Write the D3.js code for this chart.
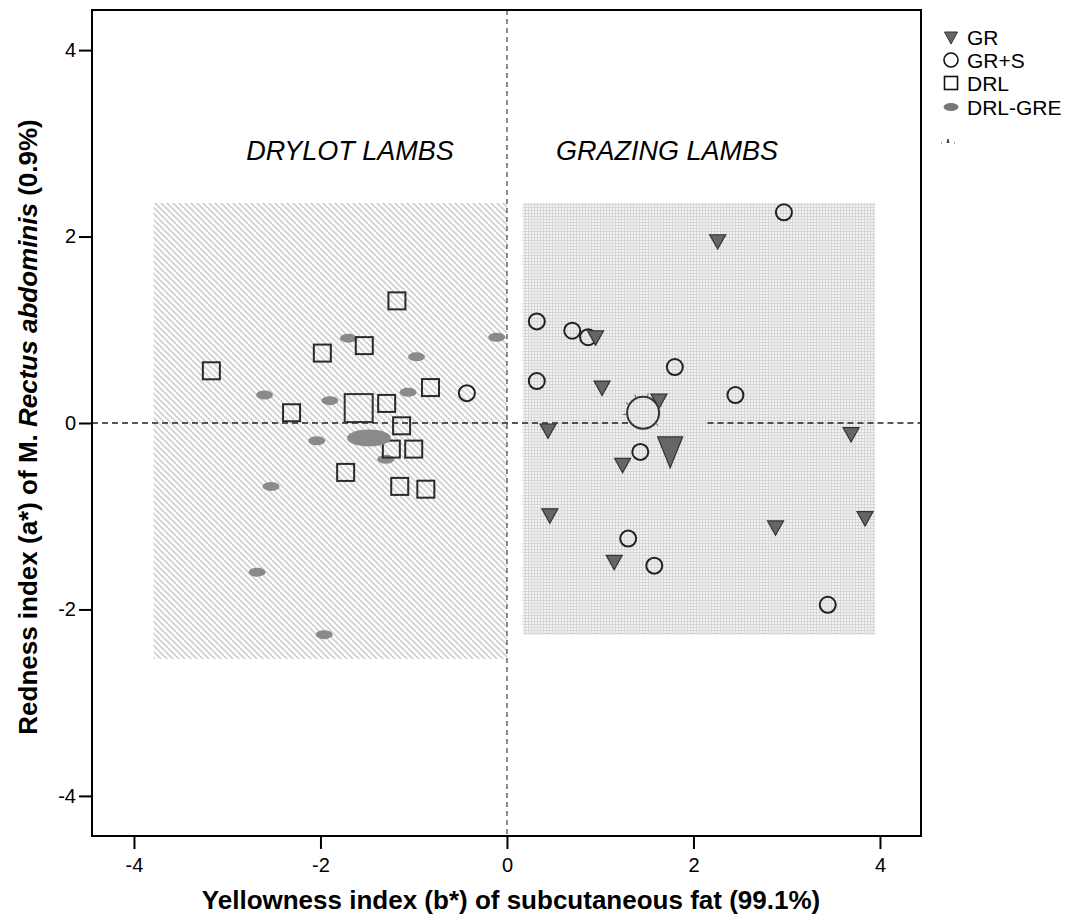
<!DOCTYPE html>
<html>
<head>
<meta charset="utf-8">
<script src="https://cdn.jsdelivr.net/npm/d3@7"></script>
<style>
  body { margin: 0; background: #fff; }
  svg text { font-family: "Liberation Sans", Arial, sans-serif; }
</style>
</head>
<body>
<svg id="chart" width="1078" height="921"></svg>
<script>
// data: [b*, a*]
var grPoints = [[2.26,1.95],[0.95,0.92],[1.02,0.38],[1.63,0.24],[0.44,-0.08],[1.24,-0.45],
  [3.69,-0.12],[0.46,-0.99],[1.15,-1.49],[2.88,-1.12],[3.84,-1.02]];
var grsPoints = [[2.97,2.26],[0.32,1.09],[0.70,0.99],[0.87,0.92],[0.32,0.45],[-0.43,0.32],
  [1.80,0.60],[2.45,0.30],[1.43,-0.31],[1.30,-1.24],[1.58,-1.53],[3.44,-1.95]];
var drlPoints = [[-3.17,0.56],[-1.18,1.31],[-1.98,0.75],[-1.53,0.83],[-0.82,0.38],[-2.31,0.11],
  [-1.29,0.21],[-1.13,-0.03],[-1.24,-0.28],[-1.00,-0.28],[-1.73,-0.53],[-1.15,-0.68],[-0.87,-0.71]];
var drlgrePoints = [[-1.70,0.91],[-0.11,0.92],[-0.97,0.71],[-2.60,0.30],[-1.90,0.24],[-1.06,0.33],
  [-2.04,-0.19],[-1.30,-0.39],[-2.53,-0.68],[-2.68,-1.60],[-1.96,-2.27]];

// group centroids (big symbols)
var centroids = [
  {group: 'GR', x: 1.75, y: -0.31},
  {group: 'GR+S', x: 1.46, y: 0.11},
  {group: 'DRL', x: -1.59, y: 0.16},
  {group: 'DRL-GRE', x: -1.48, y: -0.16}
];

var legendLabels = ['GR', 'GR+S', 'DRL', 'DRL-GRE'];
var xTicks = [-4, -2, 0, 2, 4];
var yTicks = [-4, -2, 0, 2, 4];

// shaded zones [x0, x1, y0, y1]
var drylotZone = [-3.79, 0, -2.53, 2.36];
var grazingZone = [0.17, 3.95, -2.27, 2.36];
var zeroLineSegments = [[-4.45, 1.32], [2.15, 4.45]];

var svg = d3.select('#chart');
var plotLeft = 92, plotRight = 921, plotTop = 10, plotBottom = 836;

var x = d3.scaleLinear().domain([-4.45, 4.44]).range([plotLeft, plotRight]);
var y = d3.scaleLinear().domain([-4.43, 4.43]).range([plotBottom, plotTop]);

var defs = svg.append('defs');
var hatch = defs.append('pattern').attr('id', 'hatch')
  .attr('patternUnits', 'userSpaceOnUse').attr('width', 6).attr('height', 6);
hatch.append('rect').attr('width', 6).attr('height', 6).attr('fill', '#fff');
hatch.append('path').attr('d', 'M0,0L6,6M-3,3L3,9M3,-3L9,3')
  .attr('stroke', '#cfcfcf').attr('stroke-width', 1.6);

var grid = defs.append('pattern').attr('id', 'grid')
  .attr('patternUnits', 'userSpaceOnUse').attr('width', 3).attr('height', 3);
grid.append('rect').attr('width', 3).attr('height', 3).attr('fill', '#f3f3f3');
grid.append('path').attr('d', 'M0,0.5H3M0.5,0V3')
  .attr('stroke', '#d6d6d6').attr('stroke-width', 1);

function zone(z, fill){
  svg.append('rect')
    .attr('x', x(z[0])).attr('y', y(z[3]))
    .attr('width', x(z[1]) - x(z[0]))
    .attr('height', y(z[2]) - y(z[3]))
    .attr('fill', fill);
}
zone(drylotZone, 'url(#hatch)');
zone(grazingZone, 'url(#grid)');

// reference lines
svg.append('line')
  .attr('x1', x(0)).attr('x2', x(0)).attr('y1', plotTop).attr('y2', plotBottom)
  .attr('stroke', '#666').attr('stroke-width', 1.5).attr('stroke-dasharray', '5,4');
svg.selectAll('line.zero').data(zeroLineSegments).enter().append('line')
  .attr('class', 'zero')
  .attr('x1', function(d){ return x(d[0]); })
  .attr('x2', function(d){ return x(d[1]); })
  .attr('y1', y(0)).attr('y2', y(0))
  .attr('stroke', '#222').attr('stroke-width', 1.5).attr('stroke-dasharray', '6,4');

// zone labels
svg.append('text').attr('x', 350).attr('y', 160).attr('text-anchor', 'middle')
  .attr('font-size', 27).attr('font-style', 'italic').text('DRYLOT LAMBS');
svg.append('text').attr('x', 667).attr('y', 160).attr('text-anchor', 'middle')
  .attr('font-size', 27).attr('font-style', 'italic').text('GRAZING LAMBS');

// symbols
function tri(s){
  var w = s * 1.0, h = s * 0.9;
  return 'M' + (-w/2) + ',' + (-h*0.45) + 'L' + (w/2) + ',' + (-h*0.45) + 'L0,' + (h*0.55) + 'Z';
}

function drawEllipses(g, pts, rx, ry){
  g.selectAll('ellipse.pt').data(pts).enter().append('ellipse')
    .attr('class', 'pt')
    .attr('cx', function(d){ return x(d[0]); })
    .attr('cy', function(d){ return y(d[1]); })
    .attr('rx', rx).attr('ry', ry)
    .attr('fill', '#8a8a8a');
}
function drawSquares(g, pts, s){
  g.selectAll('rect.pt').data(pts).enter().append('rect')
    .attr('class', 'pt')
    .attr('x', function(d){ return x(d[0]) - s/2; })
    .attr('y', function(d){ return y(d[1]) - s/2; })
    .attr('width', s).attr('height', s)
    .attr('fill', 'none').attr('stroke', '#2a2a2a').attr('stroke-width', 2);
}
function drawCircles(g, pts, r){
  g.selectAll('circle.pt').data(pts).enter().append('circle')
    .attr('class', 'pt')
    .attr('cx', function(d){ return x(d[0]); })
    .attr('cy', function(d){ return y(d[1]); })
    .attr('r', r)
    .attr('fill', 'none').attr('stroke', '#222').attr('stroke-width', 2);
}
function drawTriangles(g, pts, s){
  g.selectAll('path.pt').data(pts).enter().append('path')
    .attr('class', 'pt')
    .attr('transform', function(d){ return 'translate(' + x(d[0]) + ',' + y(d[1]) + ')'; })
    .attr('d', tri(s))
    .attr('fill', '#666').attr('stroke', '#333').attr('stroke-width', 1.2);
}

var marks = svg.append('g');
drawEllipses(marks.append('g'), drlgrePoints, 8.5, 4.5);
drawSquares(marks.append('g'), drlPoints, 17);
drawCircles(marks.append('g'), grsPoints, 8);
drawTriangles(marks.append('g'), grPoints, 16);

// centroids
var cg = svg.append('g');
var cDrlGre = centroids[3], cDrl = centroids[2], cGrs = centroids[1], cGr = centroids[0];
cg.append('ellipse').attr('cx', x(cDrlGre.x)).attr('cy', y(cDrlGre.y))
  .attr('rx', 22).attr('ry', 8.5).attr('fill', '#8a8a8a');
cg.append('rect').attr('x', x(cDrl.x) - 14).attr('y', y(cDrl.y) - 14)
  .attr('width', 28).attr('height', 28)
  .attr('fill', 'none').attr('stroke', '#333').attr('stroke-width', 2);
cg.append('circle').attr('cx', x(cGrs.x)).attr('cy', y(cGrs.y)).attr('r', 16)
  .attr('fill', 'none').attr('stroke', '#333').attr('stroke-width', 2);
var spikeAngles = [-150, -115, -75, -20, 40, 175];
cg.selectAll('line.spike').data(spikeAngles).enter().append('line')
  .attr('class', 'spike')
  .attr('x1', function(a){ return x(cGrs.x) + 16 * Math.cos(a * Math.PI / 180); })
  .attr('y1', function(a){ return y(cGrs.y) + 16 * Math.sin(a * Math.PI / 180); })
  .attr('x2', function(a){ return x(cGrs.x) + 20 * Math.cos(a * Math.PI / 180); })
  .attr('y2', function(a){ return y(cGrs.y) + 20 * Math.sin(a * Math.PI / 180); })
  .attr('stroke', '#555').attr('stroke-width', 1);
cg.append('path')
  .attr('transform', 'translate(' + x(cGr.x) + ',' + y(cGr.y) + ')')
  .attr('d', 'M-12.5,-15L12.5,-15L0,16Z')
  .attr('fill', '#666').attr('stroke', '#333').attr('stroke-width', 1.2);

// frame
svg.append('rect').attr('x', plotLeft).attr('y', plotTop)
  .attr('width', plotRight - plotLeft).attr('height', plotBottom - plotTop)
  .attr('fill', 'none').attr('stroke', '#000').attr('stroke-width', 2);

// axes
var xAxis = svg.append('g').attr('transform', 'translate(0,' + plotBottom + ')')
  .call(d3.axisBottom(x).tickValues(xTicks).tickSize(13).tickPadding(9).tickFormat(d3.format('d')));
var yAxis = svg.append('g').attr('transform', 'translate(' + plotLeft + ',0)')
  .call(d3.axisLeft(y).tickValues(yTicks).tickSize(13).tickPadding(3).tickFormat(d3.format('d')));
[xAxis, yAxis].forEach(function(a){
  a.select('.domain').remove();
  a.selectAll('line').attr('stroke', '#000').attr('stroke-width', 2);
  a.selectAll('text').attr('font-size', 20).attr('fill', '#000')
    .style('font-family', '"Liberation Sans", Arial, sans-serif')
    .text(function(d){ return String(d); });
});

// axis titles
svg.append('text').attr('x', 511).attr('y', 909).attr('text-anchor', 'middle')
  .attr('font-size', 26).attr('font-weight', 'bold')
  .text('Yellowness index (b*) of subcutaneous fat (99.1%)');
var yt = svg.append('text')
  .attr('transform', 'translate(37,' + 427 + ') rotate(-90)')
  .attr('text-anchor', 'middle').attr('font-size', 26).attr('font-weight', 'bold');
yt.append('tspan').text('Redness index (a*) of M. ');
yt.append('tspan').attr('font-style', 'italic').text('Rectus abdominis');
yt.append('tspan').text(' (0.9%)');

// legend
var lg = svg.append('g').attr('transform', 'translate(951,0)');
var legendY = [37, 60, 83, 107];
lg.selectAll('text.lbl').data(legendLabels).enter().append('text')
  .attr('class', 'lbl')
  .attr('x', 16).attr('y', function(d, i){ return legendY[i] + 8; })
  .attr('font-size', 21).text(function(d){ return d; });
lg.append('path').attr('transform', 'translate(0,' + legendY[0] + ')')
  .attr('d', 'M-6.5,-5L6.5,-5L0,7Z').attr('fill', '#666').attr('stroke', '#333');
lg.append('circle').attr('cy', legendY[1]).attr('r', 7)
  .attr('fill', 'none').attr('stroke', '#111').attr('stroke-width', 1.6);
lg.append('rect').attr('x', -6.5).attr('y', legendY[2] - 6.5).attr('width', 13).attr('height', 13)
  .attr('fill', 'none').attr('stroke', '#111').attr('stroke-width', 1.6);
lg.append('ellipse').attr('cy', legendY[3]).attr('rx', 7.5).attr('ry', 4).attr('fill', '#777');
// partially visible fifth entry
lg.append('path').attr('d', 'M-10,143h1M-4,143l1,-4l1,4M3,143h1')
  .attr('stroke', '#444').attr('stroke-width', 1);
</script>
</body>
</html>
